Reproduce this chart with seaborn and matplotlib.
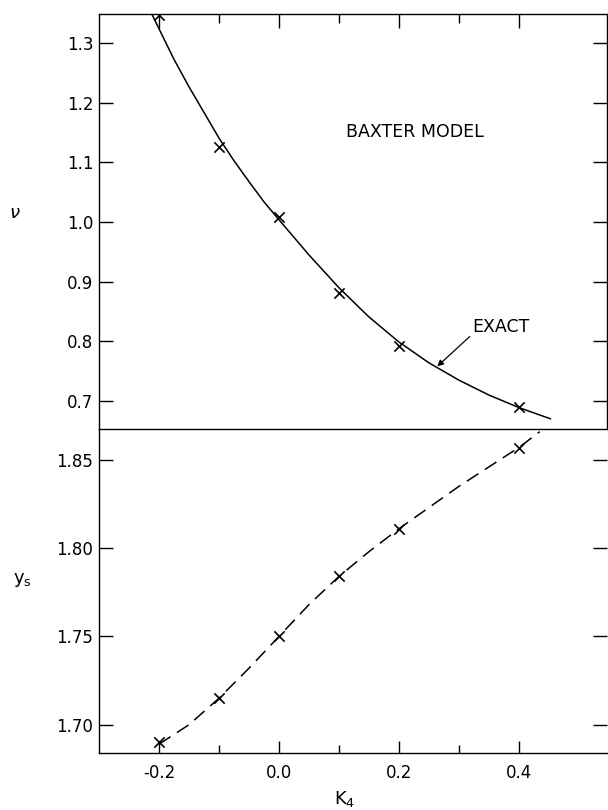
import numpy as np
import pandas as pd
import seaborn as sns
import matplotlib.pyplot as plt

# data
k4_pts = [-0.2, -0.1, 0.0, 0.1, 0.2, 0.4]
nu_pts = [1.347, 1.126, 1.009, 0.881, 0.793, 0.690]
ys_pts = [1.690, 1.715, 1.750, 1.784, 1.811, 1.857]

k4_exact = [-0.212, -0.175, -0.15, -0.125, -0.10, -0.075, -0.05, -0.025, 0.0,
            0.05, 0.10, 0.15, 0.20, 0.25, 0.30, 0.35, 0.40, 0.453]
nu_exact = [1.349, 1.273, 1.227, 1.184, 1.141, 1.103, 1.068, 1.034, 1.004,
            0.945, 0.890, 0.841, 0.799, 0.764, 0.735, 0.710, 0.689, 0.670]

k4_dash = [-0.2, -0.15, -0.10, -0.05, 0.0, 0.05, 0.10, 0.15, 0.20, 0.25, 0.30, 0.35, 0.40, 0.435]
ys_dash = [1.689, 1.700, 1.715, 1.732, 1.750, 1.768, 1.784, 1.798, 1.811, 1.823, 1.835, 1.846, 1.857, 1.866]

nu_ticks = [1.3, 1.2, 1.1, 1.0, 0.9, 0.8, 0.7]
nu_labels = ["1.3", "1.2", "1.1", "1.0", "0.9", "0.8", "0.7"]
ys_ticks = [1.85, 1.80, 1.75, 1.70]
ys_labels = ["1.85", "1.80", "1.75", "1.70"]
x_ticks = [-0.2, 0.0, 0.2, 0.4]
x_labels = ["-0.2", "0.0", "0.2", "0.4"]
x_minor = [-0.1, 0.1, 0.3]

sns.set_style("ticks")
plt.rcParams['font.family'] = ['DejaVu Sans']
plt.rcParams.update({"text.color": "black", "axes.labelcolor": "black",
                     "xtick.color": "black", "ytick.color": "black"})

fig = plt.figure(figsize=(6.08, 8.10), dpi=100)
gs = fig.add_gridspec(2, 1, left=99/608, right=607/608, top=1-14/810, bottom=1-753/810,
                      hspace=0, height_ratios=[415, 324])
ax1 = fig.add_subplot(gs[0])
ax2 = fig.add_subplot(gs[1], sharex=ax1)

# top panel: nu
sns.lineplot(x=k4_exact, y=nu_exact, ax=ax1, color="black", lw=1.1, sort=False, estimator=None)
sns.scatterplot(x=k4_pts, y=nu_pts, ax=ax1, marker="x", s=55, color="black", linewidth=1.2, zorder=3)

# bottom panel: y_s
sns.lineplot(x=k4_dash, y=ys_dash, ax=ax2, color="black", lw=1.1, sort=False, estimator=None,
             linestyle=(0, (9, 5)))
sns.scatterplot(x=k4_pts, y=ys_pts, ax=ax2, marker="x", s=55, color="black", linewidth=1.2, zorder=3)

ax1.set_xlim(-0.3, 0.547)
ax1.set_ylim(0.653, 1.349)
ax2.set_ylim(1.684, 1.8675)

for ax in (ax1, ax2):
    for s in ax.spines.values():
        s.set_linewidth(1.0)
        s.set_color("black")
    ax.set_xlabel("")
    ax.set_ylabel("")

ax1.spines["bottom"].set_visible(False)
ax2.spines["right"].set_visible(False)

ax1.set_yticks(nu_ticks)
ax1.set_yticklabels(nu_labels)
ax2.set_yticks(ys_ticks)
ax2.set_yticklabels(ys_labels)
ax2.set_xticks(x_ticks)
ax2.set_xticklabels(x_labels)
ax2.set_xticks(x_minor, minor=True)

ax1.tick_params(axis="y", which="major", direction="in", length=10, width=1.0,
                left=True, right=True, labelsize=12, pad=4)
ax1.tick_params(axis="x", which="major", direction="in", length=10, width=1.0,
                top=True, bottom=False, labelbottom=False, labeltop=False)
ax1.tick_params(axis="x", which="minor", direction="in", length=6.5, width=1.0,
                top=True, bottom=False)
ax2.tick_params(axis="y", which="major", direction="in", length=10, width=1.0,
                left=True, right=True, labelsize=12, pad=4)
ax2.tick_params(axis="x", which="major", direction="in", length=9, width=1.0,
                top=False, bottom=True, labelsize=12, pad=8)
ax2.tick_params(axis="x", which="minor", direction="in", length=6, width=1.0,
                top=False, bottom=True)

# annotations
ax1.text(0.227, 1.151, "BAXTER MODEL", ha="center", va="center", fontsize=12.5)
ax1.text(0.322, 0.824, "EXACT", ha="left", va="center", fontsize=12.5)
ax1.annotate("", xy=(0.264, 0.758), xytext=(0.318, 0.808),
             arrowprops=dict(arrowstyle="-|>", lw=0.9, color="black", mutation_scale=9,
                             shrinkA=0, shrinkB=0))

# axis labels
fig.text(15/608, 1-213/810, r"$\nu$", ha="center", va="center", fontsize=13)
fig.text(22/608, 1-580/810, r"$\mathregular{y_s}$", ha="center", va="center", fontsize=13)
fig.text(345/608, 1-799/810, r"$\mathregular{K_4}$", ha="center", va="center", fontsize=13)

fig.savefig("out.png", dpi=100)
